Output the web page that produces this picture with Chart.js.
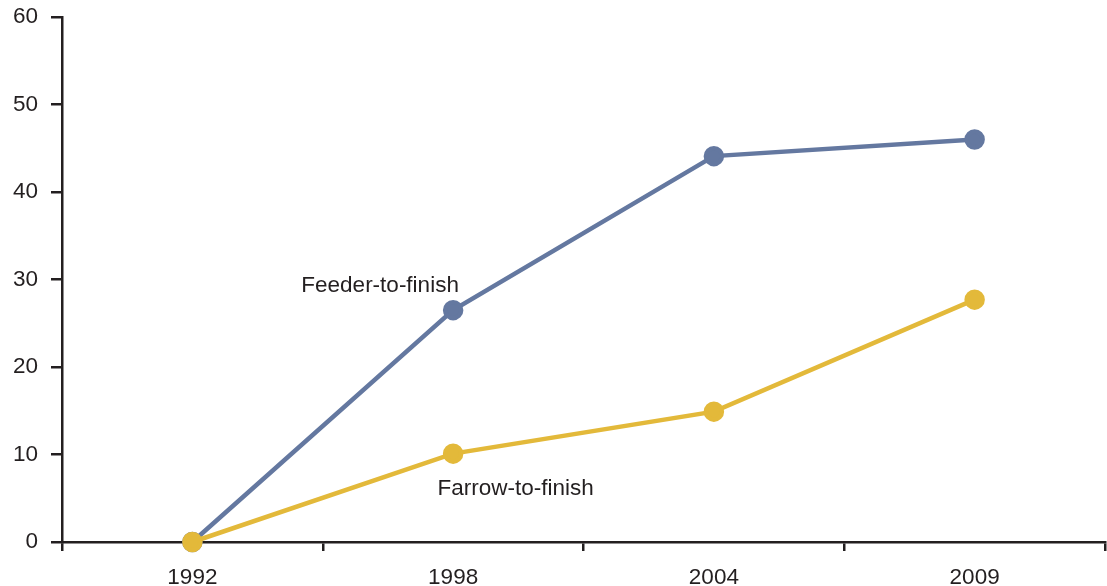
<!DOCTYPE html>
<html><head><meta charset="utf-8">
<script src="https://cdn.jsdelivr.net/npm/chart.js@4"></script>
<style>html,body{margin:0;padding:0;background:#fff;overflow:hidden}canvas{display:block}</style>
</head><body><canvas id="c" width="1107" height="586"></canvas>
<script>
const years = ['1992', '1998', '2004', '2009'];
const feederToFinish = [0, 26.5, 44.1, 46.0];
const farrowToFinish = [0, 10.1, 14.9, 27.7];
const yTicks = [0, 10, 20, 30, 40, 50, 60];
const seriesLabels = [
  {text: 'Feeder-to-finish', index: 0.72, value: 29.3},
  {text: 'Farrow-to-finish', index: 1.24, value: 6.1}
];

const axisColor = '#231f20';
const fontFamily = '"Liberation Sans", Arial, sans-serif';
const labelPlugin = {
  id: 'seriesLabels',
  afterDatasetsDraw(chart) {
    const ctx = chart.ctx, xs = chart.scales.x, ys = chart.scales.y;
    ctx.save();
    ctx.font = '22.5px ' + fontFamily;
    ctx.fillStyle = '#231f20';
    ctx.textAlign = 'center';
    ctx.textBaseline = 'middle';
    seriesLabels.forEach(l => {
      const i0 = Math.floor(l.index);
      const x0 = xs.getPixelForValue(i0);
      const x1 = xs.getPixelForValue(i0 + 1);
      const x = x0 + (x1 - x0) * (l.index - i0);
      ctx.fillText(l.text, x, ys.getPixelForValue(l.value));
    });
    ctx.restore();
  }
};

new Chart(document.getElementById('c'), {
  type: 'line',
  data: {
    labels: years,
    datasets: [
      {label: 'Feeder-to-finish', data: feederToFinish, borderColor: '#6478a0', backgroundColor: '#6478a0',
       borderWidth: 4.5, pointRadius: 8, pointHoverRadius: 8, tension: 0, clip: false, order: 1},
      {label: 'Farrow-to-finish', data: farrowToFinish, borderColor: '#e3b93a', backgroundColor: '#e3b93a',
       borderWidth: 4.5, pointRadius: 8, pointHoverRadius: 8, tension: 0, clip: false, order: 0}
    ]
  },
  options: {
    responsive: false, animation: false,
    layout: {autoPadding: false, padding: {top: 17, right: 2, left: 0, bottom: 0}},
    plugins: {legend: {display: false}, tooltip: {enabled: false}},
    scales: {
      x: {
        offset: true,
        grid: {offset: true, drawOnChartArea: false, drawTicks: true, tickLength: 9, color: axisColor, lineWidth: 2.5},
        border: {display: true, color: axisColor, width: 2.5},
        ticks: {color: '#231f20', font: {family: fontFamily, size: 22.5}, padding: 13, maxRotation: 0},
        afterFit(s) { s.height = 44; s.paddingLeft = 0; s.paddingRight = 0; }
      },
      y: {
        min: 0, max: 60,
        afterBuildTicks(s) { s.ticks = yTicks.map(v => ({value: v})); },
        grid: {drawOnChartArea: false, drawTicks: true, tickLength: 11, color: axisColor, lineWidth: 2.5},
        border: {display: true, color: axisColor, width: 2.5},
        ticks: {color: '#231f20', font: {family: fontFamily, size: 22.5}, padding: 13},
        afterFit(s) { s.width = 62; s.paddingTop = 0; s.paddingBottom = 0; }
      }
    }
  },
  plugins: [labelPlugin]
});
</script>
</body></html>
